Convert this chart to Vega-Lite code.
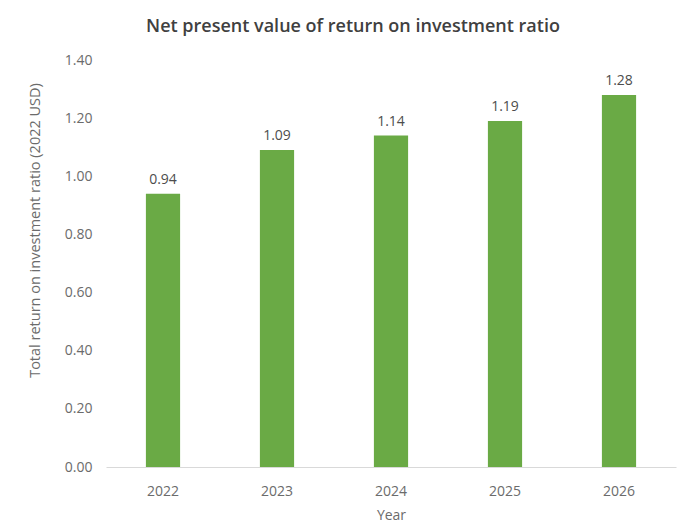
{
  "$schema": "https://vega.github.io/schema/vega-lite/v6.json",
  "width": 570,
  "height": 407,
  "autosize": "none",
  "padding": {"left": 106, "top": 60, "right": 12, "bottom": 60},
  "background": "white",
  "title": {
    "text": "Net present value of return on investment ratio",
    "anchor": "middle",
    "frame": "group",
    "dx": -38,
    "offset": 17,
    "font": "Open Sans",
    "fontSize": 18,
    "fontWeight": 600,
    "color": "#404040"
  },
  "config": {
    "view": {"stroke": null},
    "font": "Open Sans"
  },
  "data": {
    "values": [
      {"Year": "2022", "ROI": 0.94},
      {"Year": "2023", "ROI": 1.09},
      {"Year": "2024", "ROI": 1.14},
      {"Year": "2025", "ROI": 1.19},
      {"Year": "2026", "ROI": 1.28}
    ]
  },
  "encoding": {
    "x": {
      "field": "Year",
      "type": "nominal",
      "scale": {"paddingInner": 0.7, "paddingOuter": 0.35},
      "axis": {
        "title": "Year",
        "labelAngle": 0,
        "labelFont": "Open Sans",
        "labelFontSize": 14,
        "labelColor": "#6b6b6b",
        "labelPadding": 17,
        "ticks": false,
        "domainColor": "#d9d9d9",
        "titleFont": "Open Sans",
        "titleFontSize": 14,
        "titleFontWeight": "normal",
        "titleColor": "#6b6b6b",
        "titleY": 48,
        "titleBaseline": "middle"
      }
    },
    "y": {
      "field": "ROI",
      "type": "quantitative",
      "scale": {"domain": [0, 1.4]},
      "axis": {
        "title": "Total return on investment ratio (2022 USD)",
        "values": [0, 0.2, 0.4, 0.6, 0.8, 1.0, 1.2, 1.4],
        "format": ".2f",
        "grid": false,
        "domain": false,
        "ticks": false,
        "labelPadding": 14,
        "labelFont": "Open Sans",
        "labelFontSize": 14,
        "labelColor": "#6b6b6b",
        "titleFont": "Open Sans",
        "titleFontSize": 14.5,
        "titleFontWeight": "normal",
        "titleColor": "#6b6b6b",
        "titleX": -71,
        "titleY": 170,
        "titleAngle": -90,
        "titleAlign": "center",
        "titleBaseline": "middle"
      }
    }
  },
  "layer": [
    {"mark": {"type": "bar", "color": "#6aaa45"}},
    {
      "mark": {"type": "text", "baseline": "bottom", "dy": -7, "fontSize": 14, "color": "#4d4d4d", "font": "Open Sans"},
      "encoding": {"text": {"field": "ROI", "type": "quantitative", "format": ".2f"}}
    }
  ]
}
